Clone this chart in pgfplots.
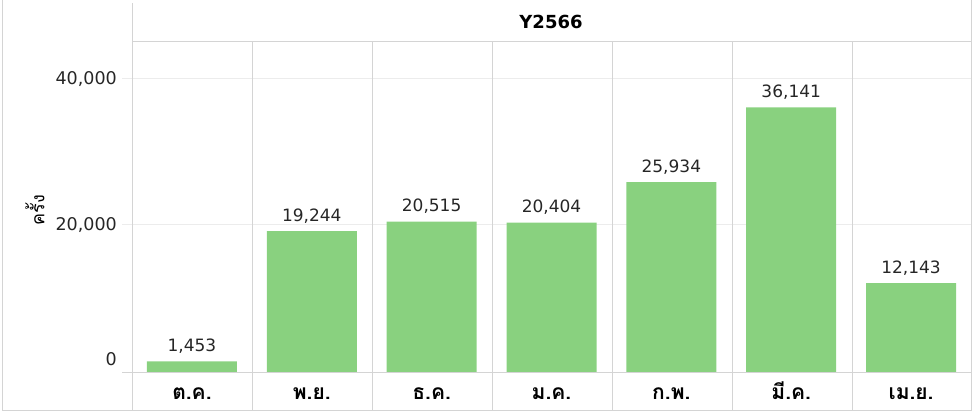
\documentclass[border=0pt]{standalone}
\usepackage{fontspec}
\setmainfont{DejaVu Sans}
\newfontfamily\thaifont[Script=Thai]{Loma}
\usepackage{pgfplots}
\pgfplotsset{compat=1.18}
\definecolor{bargreen}{RGB}{137,209,127}
\definecolor{paneline}{RGB}{212,212,212}
\definecolor{gridline}{RGB}{236,236,236}

\begin{document}
\begin{tikzpicture}[x=1pt,y=1pt]
\useasboundingbox (0,0) rectangle (974,418);

% light horizontal gridlines (20,000 and 40,000)
\draw[gridline, line width=1pt] (122,193) -- (971,193);
\draw[gridline, line width=1pt] (122,339) -- (971,339);

\begin{axis}[
    at={(132pt,46pt)},
    anchor=south west,
    scale only axis,
    width=839pt,
    height=330pt,
    xmin=0.5, xmax=7.5,
    ymin=0, ymax=45050,
    scaled y ticks=false,
    axis line style={draw=none},
    major tick length=0pt,
    xtick={1,2,3,4,5,6,7},
    xticklabels={ต.ค., พ.ย., ธ.ค., ม.ค., ก.พ., มี.ค., เม.ย.},
    xticklabel style={font=\thaifont\bfseries\fontsize{21}{24}\selectfont,
        anchor=base, inner sep=0pt, yshift=-27pt},
    ytick={20000,40000},
    yticklabels={{20,000},{40,000}},
    yticklabel style={font=\fontsize{17.5}{20}\selectfont,
        anchor=east, inner sep=0pt, xshift=-15pt, text=black!85},
    /pgf/number format/assume math mode=true,
    clip=false,
]
\addplot[ybar, bar width=90pt, fill=bargreen, draw=none,
    nodes near coords={\pgfmathprintnumber[fixed,precision=0,1000 sep={,}]{\pgfplotspointmeta}},
    nodes near coords style={font=\fontsize{17}{20}\selectfont,
        anchor=base, inner sep=0pt, yshift=10pt, text=black!85}]
    coordinates {(1,1453) (2,19244) (3,20515) (4,20404) (5,25934) (6,36141) (7,12143)};
\end{axis}

% "0" tick label sits above the baseline
\node[font=\fontsize{17.5}{20}\selectfont, anchor=east, inner sep=0pt, text=black!85] at (117,59) {0};

% pane lines
\draw[paneline, line width=1pt] (122,46) -- (971,46);
\draw[paneline, line width=1pt] (132,376) -- (971,376);
\draw[paneline, line width=1pt] (132,8) -- (132,415);
\foreach \xx in {252,372,492,612,732,852}
    \draw[paneline, line width=1pt] (\xx,8) -- (\xx,376);

% outer frame
\draw[paneline, line width=1pt] (2,418) -- (2,8) -- (971,8) -- (971,418);

% header and y title
\node[font=\bfseries\fontsize{18}{20}\selectfont] at (551,396) {Y2566};
\node[font=\thaifont\fontsize{18}{20}\selectfont, rotate=90] at (35,208) {ครั้ง};

\end{tikzpicture}
\end{document}
